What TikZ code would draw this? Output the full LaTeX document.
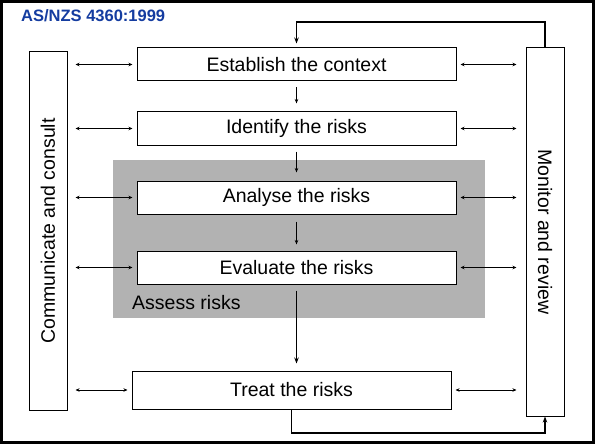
\documentclass[tikz,border=0pt]{standalone}
\usepackage{fontspec}
\setmainfont{Liberation Sans}
\usepackage{tikz}
\usetikzlibrary{
    arrows.meta,
    positioning,
    backgrounds
}
\definecolor{titleblue}{RGB}{20,60,160}
\definecolor{assessgray}{RGB}{178,178,178}
\tikzset{
    stepbox/.style={
        rectangle,
        draw=black,
        fill=white,
        minimum width=319pt,
        minimum height=33pt,
        inner sep=2pt,
        font=\fontsize{19.5}{21}\selectfont,
        line width=1pt
    },
    sidebox/.style={
        rectangle,
        draw=black,
        fill=white,
        minimum width=38pt,
        inner sep=0pt,
        font=\fontsize{19.5}{21}\selectfont,
        line width=1pt
    },
    linkarrow/.style={
        {Stealth[length=4pt,width=3.5pt]}-{Stealth[length=4pt,width=3.5pt]},
        line width=0.8pt,
        draw=black
    },
    flowarrow/.style={
        -{Stealth[length=4.5pt,width=3.5pt]},
        line width=1.1pt,
        draw=black
    },
    mainarrow/.style={
        -{Stealth[length=6pt,width=4.5pt]},
        line width=1.8pt,
        draw=black
    }
}

\begin{document}
\begin{tikzpicture}[
    x=1pt, y=-1pt,
    node distance=30pt,
    assess/.style={
        fill=assessgray,
        draw=none
    }
]
    \useasboundingbox (0,0) rectangle (595,444);
    \draw[line width=3pt] (1.5,1.5) rectangle (593.5,442.5);
    \node[anchor=west, font=\bfseries\fontsize{16.5}{18}\selectfont, text=titleblue, inner sep=0pt] (title) at (21,16) {AS/NZS 4360:1999};

    % Assess risks area
    \fill[assess] (113,160) rectangle (485,318);
    \node[anchor=west, font=\fontsize{19.5}{21}\selectfont, inner sep=0pt] (assesslabel) at (132,303) {Assess risks};

    % Process steps
    \node[stepbox] (establish) at (296.5,64.5) {Establish the context};
    \node[stepbox, below=30pt of establish] (identify) {Identify the risks};
    \node[stepbox, below=35pt of identify] (analyse) {Analyse the risks};
    \node[stepbox, below=36pt of analyse] (evaluate) {Evaluate the risks};
    \node[stepbox, minimum height=38pt, below=86pt of evaluate, xshift=-5pt] (treat) {Treat the risks};

    % Side columns
    \node[sidebox, minimum height=358pt] (consult) at (48,231) {\rotatebox{90}{Communicate and consult}};
    \node[sidebox, minimum height=368pt] (monitor) at (545,232) {\rotatebox{-90}{Monitor and review}};

    % Flow between steps
    \draw[flowarrow, shorten <=6pt, shorten >=8pt] (establish) -- (identify);
    \draw[flowarrow, shorten <=6pt, shorten >=8pt] (identify) -- (analyse);
    \draw[flowarrow, shorten <=7pt, shorten >=6pt] (analyse) -- (evaluate);
    \draw[mainarrow, shorten <=6pt, shorten >=7pt] (evaluate.south) -- (evaluate.south |- treat.north);

    % Links to the side columns
    \foreach \n in {establish, identify, analyse, evaluate, treat} {
        \draw[linkarrow, shorten <=8pt, shorten >=4pt] (consult.east |- \n.west) -- (\n.west);
        \draw[linkarrow, shorten <=4pt, shorten >=9pt] (\n.east) -- (monitor.west |- \n.east);
    }

    % Feedback loops
    \coordinate (looptop) at (0,22);
    \coordinate (loopbottom) at (0,433);
    \draw[mainarrow, shorten >=4pt] (monitor.north) |- (looptop -| establish.north) -- (establish.north);
    \draw[mainarrow] (treat.south) -- (treat.south |- loopbottom) -| (monitor.south);
\end{tikzpicture}
\end{document}
